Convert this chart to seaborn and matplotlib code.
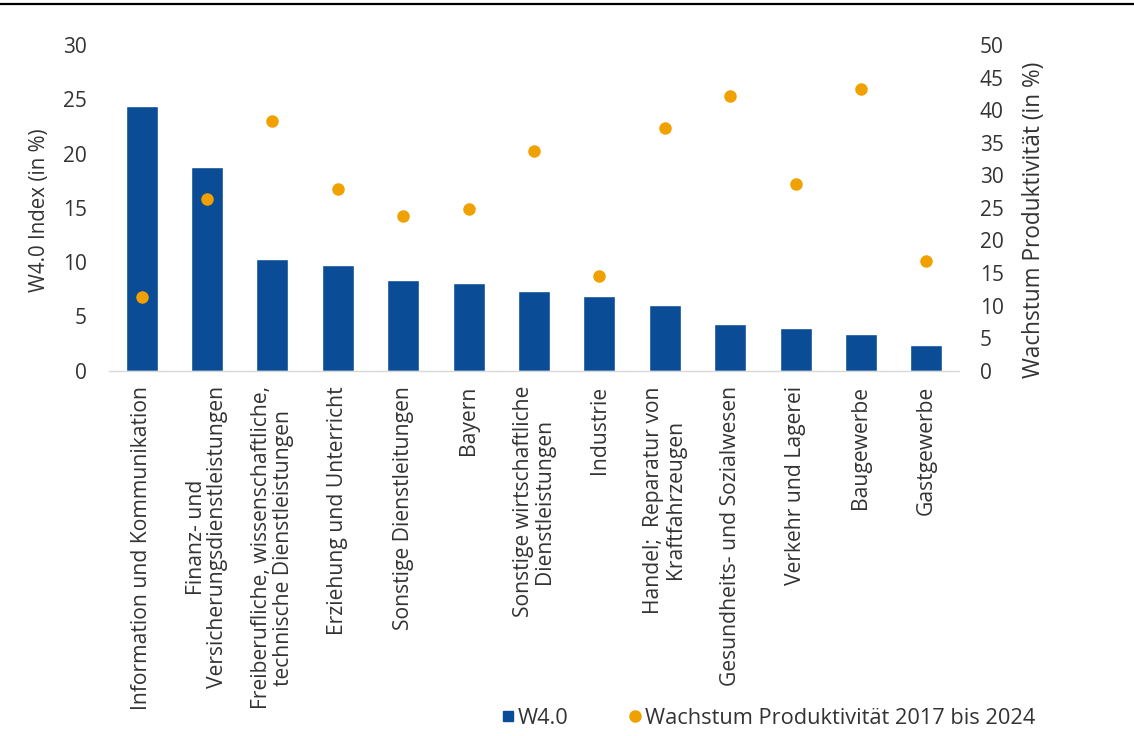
import matplotlib
matplotlib.use("Agg")
import matplotlib.pyplot as plt
from matplotlib.lines import Line2D
import seaborn as sns
import pandas as pd

# Branchen (line breaks as in the axis labels)
categories = [
    "Information und Kommunikation",
    "Finanz- und\nVersicherungsdienstleistungen",
    "Freiberufliche, wissenschaftliche,\ntechnische Dienstleistungen",
    "Erziehung und Unterricht",
    "Sonstige Dienstleitungen",
    "Bayern",
    "Sonstige wirtschaftliche\nDienstleistungen",
    "Industrie",
    "Handel;  Reparatur von\nKraftfahrzeugen",
    "Gesundheits- und Sozialwesen",
    "Verkehr und Lagerei",
    "Baugewerbe",
    "Gastgewerbe",
]
# W4.0 Index (in %), left axis
w40_index = [24.4, 18.8, 10.3, 9.7, 8.4, 8.1, 7.3, 6.9, 6.1, 4.3, 3.9, 3.4, 2.4]
# Wachstum Produktivität 2017 bis 2024 (in %), right axis
productivity_growth = [11.3, 26.3, 38.4, 27.9, 23.7, 24.9, 33.8, 14.5, 37.2, 42.2, 28.7, 43.2, 16.9]

left_ticks = [0, 5, 10, 15, 20, 25, 30]
right_ticks = [0, 5, 10, 15, 20, 25, 30, 35, 40, 45, 50]

BLUE = "#0B4C96"
ORANGE = "#F0A100"
TEXT = "#333333"

sns.set_theme(style="white")
plt.rcParams["font.family"] = ["Open Sans", "DejaVu Sans"]

df = pd.DataFrame({
    "Branche": categories,
    "W4.0": w40_index,
    "Wachstum": productivity_growth,
})

fig = plt.figure(figsize=(11.34, 7.36), dpi=100)
ax = fig.add_axes([0.0961, 0.4963, 0.7496, 0.4425])

sns.barplot(data=df, x="Branche", y="W4.0", color=BLUE, width=0.49,
            saturation=1, ax=ax, zorder=2)

ax2 = ax.twinx()
sns.stripplot(data=df, x="Branche", y="Wachstum", color=ORANGE, jitter=False,
              size=9, linewidth=0, ax=ax2, zorder=3)

ax.set_xlim(-0.5, len(categories) - 0.5)
ax.set_ylim(0, 30)
ax2.set_ylim(0, 50)
ax.set_yticks(left_ticks)
ax2.set_yticks(right_ticks)

ax.set_xlabel("")
ax2.set_xlabel("")
ax.set_ylabel("W4.0 Index (in %)", fontsize=14.8, color=TEXT)
ax2.set_ylabel("Wachstum Produktivität (in %)", fontsize=16.3, color=TEXT)
ax.yaxis.set_label_coords(-0.069, 0.493)
ax2.yaxis.set_label_coords(1.074, 0.463)

ax.tick_params(axis="y", length=0, pad=16, labelsize=15, labelcolor=TEXT)
ax2.tick_params(axis="y", length=0, pad=15, labelsize=15, labelcolor=TEXT)
ax.tick_params(axis="x", length=0, pad=11, labelsize=15.2, labelcolor=TEXT)
ax.set_xticks(range(len(categories)))
ax.set_xticklabels(categories, rotation=90, ha="center", va="top",
                   multialignment="center", linespacing=1.05)

for a in (ax, ax2):
    for side in ("left", "right", "top"):
        a.spines[side].set_visible(False)
ax2.spines["bottom"].set_visible(False)
ax.spines["bottom"].set_color("#D9D9D9")
ax.spines["bottom"].set_linewidth(1.0)

handles = [
    Line2D([], [], marker="s", color=BLUE, linestyle="none", markersize=7),
    Line2D([], [], marker="o", color=ORANGE, linestyle="none", markersize=8),
]
fig.legend(handles, ["W4.0", "Wachstum Produktivität 2017 bis 2024"],
           loc="center", bbox_to_anchor=(0.677, 0.024), ncol=2, frameon=False,
           handletextpad=0.1, columnspacing=2.7, handlelength=0.7,
           fontsize=15.7, labelcolor=TEXT)

# rule across the top of the figure
fig.add_artist(Line2D([0, 1], [0.9952, 0.9952], transform=fig.transFigure,
                      color="black", linewidth=1.6))

fig.savefig("out.png", dpi=100)
